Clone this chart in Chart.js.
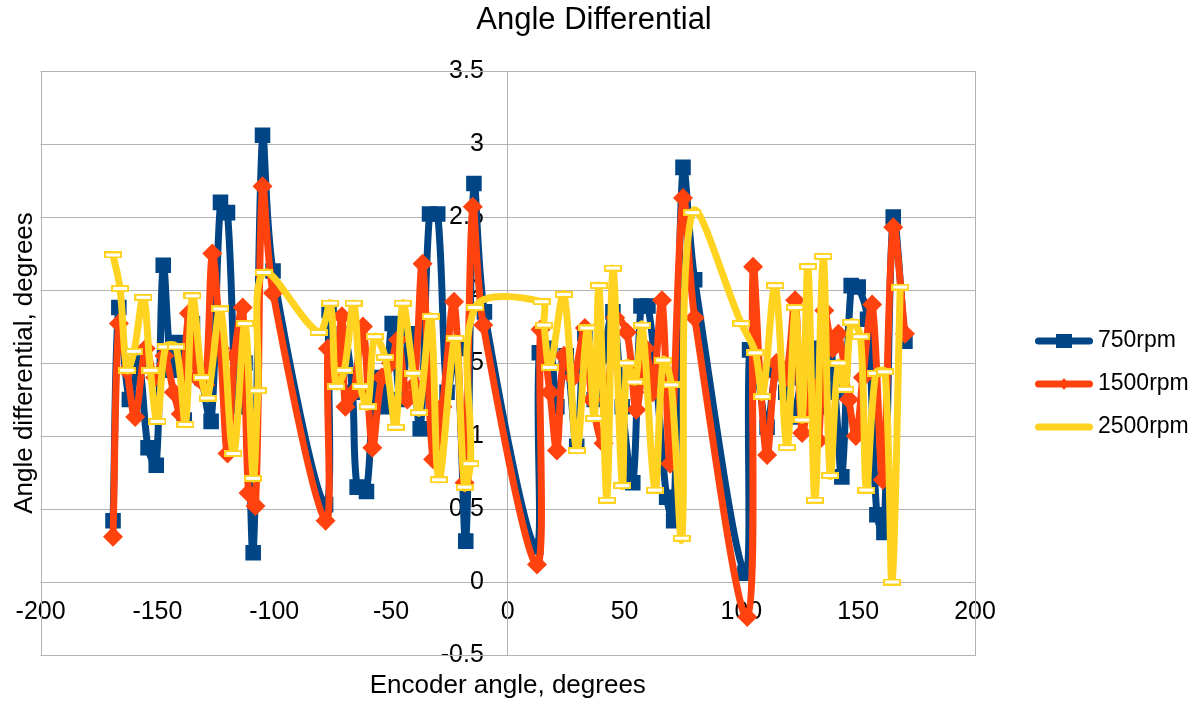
<!DOCTYPE html>
<html><head><meta charset="utf-8">
<script src="https://cdn.jsdelivr.net/npm/chart.js@4.4.1/dist/chart.umd.min.js"></script>
<style>html,body{margin:0;padding:0;background:#fff;}#wrap{width:1199px;height:704px;}</style>
</head><body><div id="wrap"><canvas id="c" width="1199" height="704"></canvas></div>
<script>
const chartTitle = 'Angle Differential';
const xAxisTitle = 'Encoder angle, degrees';
const yAxisTitle = 'Angle differential, degrees';
const seriesNames = ['750rpm', '1500rpm', '2500rpm'];
const seriesColors = ['#004586', '#ff420e', '#ffd320'];

const x750 = [-169,-166.5,-162,-158,-154,-150.5,-147.5,-144,-141,-138.5,-135,-131,-127,-123,-120,-116,-112.5,-109,-105,-100.5,-78,-76.5,-73,-70,-66.5,-64.5,-60.5,-57,-53,-49.5,-46,-42,-37.5,-33.5,-30,-26,-22,-18,-14.5,-10,12,13.5,18,21,25,29.5,33,37,41,45,49,53.5,57,60,64,68,71,75,80,101.5,103.5,107,111,115,119,122,126,130,133,137,140,143,147,150,154,158,161,165,170];
const y750 = [0.42,1.88,1.25,1.50,0.92,0.80,2.17,1.45,1.64,1.11,1.77,1.40,1.10,2.60,2.53,1.20,1.50,0.20,3.06,2.13,0.53,1.86,1.45,1.70,1.30,0.65,0.62,1.40,1.20,1.77,1.25,1.70,1.05,2.52,2.52,1.30,1.60,0.28,2.73,1.85,0.24,1.57,1.60,1.20,1.55,0.93,1.70,1.25,1.55,1.85,1.20,0.68,1.89,1.89,1.30,0.58,0.42,2.84,2.07,0.06,1.59,1.40,1.06,1.45,1.30,1.13,1.40,1.60,1.20,1.55,1.30,0.72,2.03,2.02,1.80,0.46,0.34,2.50,1.65];

const x1500 = [-169,-166.5,-163,-159.5,-155,-151,-147,-143,-140,-136.5,-133,-129.5,-126.5,-123,-120,-117,-113.5,-111,-108,-105,-100.5,-78,-77,-74,-71,-69.5,-66,-62,-58,-54,-50,-47,-43,-40,-36.5,-32,-28,-23,-18.5,-15,-10.5,12.5,14,18,21,24,28,33,36,41,46,51,55,59,62,66,69.5,75,80,102.5,105,108,111,115,119,123,126,130,133,135.5,139,141.5,146,149,152,156,160.5,165,170];
const y1500 = [0.31,1.77,1.45,1.13,1.60,1.40,1.55,1.30,1.15,1.84,1.40,1.35,2.25,1.60,0.88,1.55,1.88,0.61,0.52,2.71,1.98,0.42,1.60,1.40,1.82,1.20,1.30,1.75,0.92,1.40,1.50,1.66,1.25,1.35,2.18,0.84,1.20,1.92,0.68,2.57,1.76,0.12,1.73,1.30,0.90,1.55,1.40,1.74,1.25,0.95,1.81,1.71,1.18,1.60,1.30,1.93,0.81,2.63,1.81,-0.24,2.16,1.40,0.87,1.50,1.40,1.93,1.02,1.35,0.97,1.86,1.60,1.70,1.25,1.00,1.40,1.90,0.70,2.43,1.70];

const x2500 = [-169,-166,-163,-160,-156,-153,-150,-146.5,-142,-138,-135,-131,-128.5,-123,-117.5,-112.5,-109,-107,-104.5,-81,-76,-73.5,-70,-66,-63,-60,-57,-52.5,-48,-45,-40.5,-38,-33,-29.5,-22.5,-18.5,-16,-14,14.5,15.5,18,24,29.5,34,37,39,42.5,45,49,51,54.5,57.5,63,66.5,70,74.5,79,100,106,109,114.5,119.5,123,126,128.5,131.5,135,138,141.5,144.5,147,151,153.5,157.5,161.5,164.5,168];
const y2500 = [2.24,2.01,1.45,1.58,1.95,1.45,1.10,1.61,1.61,1.08,1.96,1.40,1.26,1.87,0.88,1.77,0.71,1.31,2.12,1.71,1.91,1.34,1.45,1.91,1.34,1.20,1.68,1.54,1.06,1.91,1.43,1.16,1.82,0.70,1.67,0.65,0.81,1.88,1.92,1.76,1.47,1.97,0.90,1.74,1.12,2.03,0.56,2.15,0.66,1.50,1.37,1.76,0.63,1.52,1.35,0.30,2.53,1.77,1.57,1.27,2.03,0.92,1.88,1.11,2.16,0.56,2.23,0.73,1.50,1.32,1.78,1.68,0.63,1.43,1.44,0.00,2.02];

const xMin = -200, xMax = 200, xStep = 50;
const yMin = -0.5, yMax = 3.5, yStep = 0.5;

const FONT = "'Liberation Sans', Arial, sans-serif";
const GRID = '#b3b3b3';

function pts(xs, ys) { return xs.map((x, i) => ({x: x, y: ys[i]})); }

function yellowMarker() {
  const c = document.createElement('canvas'); c.width = 18; c.height = 7;
  const g = c.getContext('2d');
  g.fillStyle = seriesColors[2]; g.fillRect(0, 0, 18, 7);
  g.fillStyle = '#ffffff'; g.fillRect(2, 2, 14, 3);
  return c;
}
function legendImg(color, marker) {
  const c = document.createElement('canvas'); c.width = 60; c.height = 20;
  const g = c.getContext('2d');
  g.strokeStyle = color; g.lineWidth = 7; g.lineCap = 'round';
  g.beginPath(); g.moveTo(4.5, 10); g.lineTo(55.5, 10); g.stroke();
  g.fillStyle = color;
  if (marker === 'square') { g.fillRect(22, 3, 16, 14); }
  if (marker === 'diamond') { g.beginPath(); g.moveTo(30, 4); g.lineTo(35, 10); g.lineTo(30, 16); g.lineTo(25, 10); g.closePath(); g.fill(); }
  return c;
}
const legendImgs = [legendImg(seriesColors[0], 'square'), legendImg(seriesColors[1], 'diamond'), legendImg(seriesColors[2], null)];

const frame = {
  id: 'frame',
  beforeDatasetsDraw(chart) {
    const a = chart.chartArea, g = chart.ctx;
    g.save(); g.strokeStyle = GRID; g.lineWidth = 1;
    g.strokeRect(Math.round(a.left) + 0.5, Math.round(a.top) + 0.5, Math.round(a.right - a.left), Math.round(a.bottom - a.top));
    g.restore();
  },
  afterLayout(chart) {
    const L = chart.legend;
    if (L) {
      const w = L.width, h = L.height;
      L.left = 1021.5; L.right = 1021.5 + w;
      const cy = 384;
      L.top = cy - h / 2; L.bottom = cy + h / 2;
    }
    const T = chart.titleBlock;
    if (T) { T.left = 0; T.right = 1188; }
    const ys = chart.scales.y;
    if (ys && !ys._shiftPatched) {
      const orig = ys.drawLabels;
      ys.drawLabels = function (area) {
        const g = this.ctx; g.save(); g.translate(-24, 0); orig.call(this, area); g.restore();
      };
      ys._shiftPatched = true;
    }
  }
};

const chart = new Chart(document.getElementById('c'), {
  type: 'scatter',
  data: {
    datasets: [
      { label: seriesNames[0], data: pts(x750, y750), borderColor: seriesColors[0], backgroundColor: seriesColors[0],
        showLine: true, borderWidth: 7, tension: 0.35, pointStyle: 'rect', pointRadius: 11, pointBorderWidth: 0,
        pointBackgroundColor: seriesColors[0], order: 3, xAxisID: 'x', yAxisID: 'y' },
      { label: seriesNames[1], data: pts(x1500, y1500), borderColor: seriesColors[1], backgroundColor: seriesColors[1],
        showLine: true, borderWidth: 7, tension: 0.35, pointStyle: 'rectRot', pointRadius: 10, pointBorderWidth: 0,
        pointBackgroundColor: seriesColors[1], order: 2, xAxisID: 'x', yAxisID: 'y' },
      { label: seriesNames[2], data: pts(x2500, y2500), borderColor: seriesColors[2], backgroundColor: seriesColors[2],
        showLine: true, borderWidth: 7, tension: 0.35, pointStyle: yellowMarker(), pointRadius: 6,
        order: 1, xAxisID: 'x', yAxisID: 'y' }
    ]
  },
  options: {
    responsive: false, animation: false, devicePixelRatio: 1,
    layout: { padding: { left: 0, right: 30, top: 0, bottom: 0 } },
    plugins: {
      title: { display: true, text: chartTitle, color: '#000', font: { family: FONT, size: 31, weight: 'normal' }, padding: { top: 1.5, bottom: 32.3 } },
      legend: {
        position: 'right', align: 'center',
        labels: {
          usePointStyle: true, pointStyleWidth: 45, padding: 20, color: '#000',
          font: { family: FONT, size: 23 },
          generateLabels: (ch) => ch.data.datasets.map((ds, i) => ({
            text: ds.label, fillStyle: ds.borderColor, strokeStyle: ds.borderColor, lineWidth: 0,
            pointStyle: legendImgs[i], hidden: !ch.isDatasetVisible(i), datasetIndex: i, fontColor: '#000'
          }))
        }
      },
      tooltip: { enabled: false }
    },
    scales: {
      x: {
        type: 'linear', position: { y: 0 }, min: xMin, max: xMax,
        ticks: { stepSize: xStep, color: '#000', font: { family: FONT, size: 25 }, padding: 15 },
        grid: { display: false, drawTicks: false }, border: { display: false }
      },
      y: {
        type: 'linear', position: { x: 0 }, min: yMin, max: yMax,
        ticks: { stepSize: yStep, color: '#000', font: { family: FONT, size: 25 }, padding: 0,
                 callback: (v) => String(Math.round(v * 10) / 10) },
        grid: { color: GRID, drawTicks: false }, border: { display: true, color: GRID }
      },
      x2: {
        type: 'linear', position: 'bottom', grid: { display: false, drawTicks: false }, border: { display: false }, ticks: { display: false },
        title: { display: true, text: xAxisTitle, color: '#000', font: { family: FONT, size: 26 }, padding: { top: 15.4, bottom: 2.4 } }
      },
      y2: {
        type: 'linear', position: 'left', grid: { display: false, drawTicks: false }, border: { display: false }, ticks: { display: false },
        title: { display: true, text: yAxisTitle, color: '#000', font: { family: FONT, size: 26 }, padding: { top: 9.4, bottom: 0 } }
      }
    }
  },
  plugins: [frame]
});
chart.options.layout.padding.right = Math.max(0, 1199 - 975 - chart.legend.width);
chart.update('none');
</script></body></html>
